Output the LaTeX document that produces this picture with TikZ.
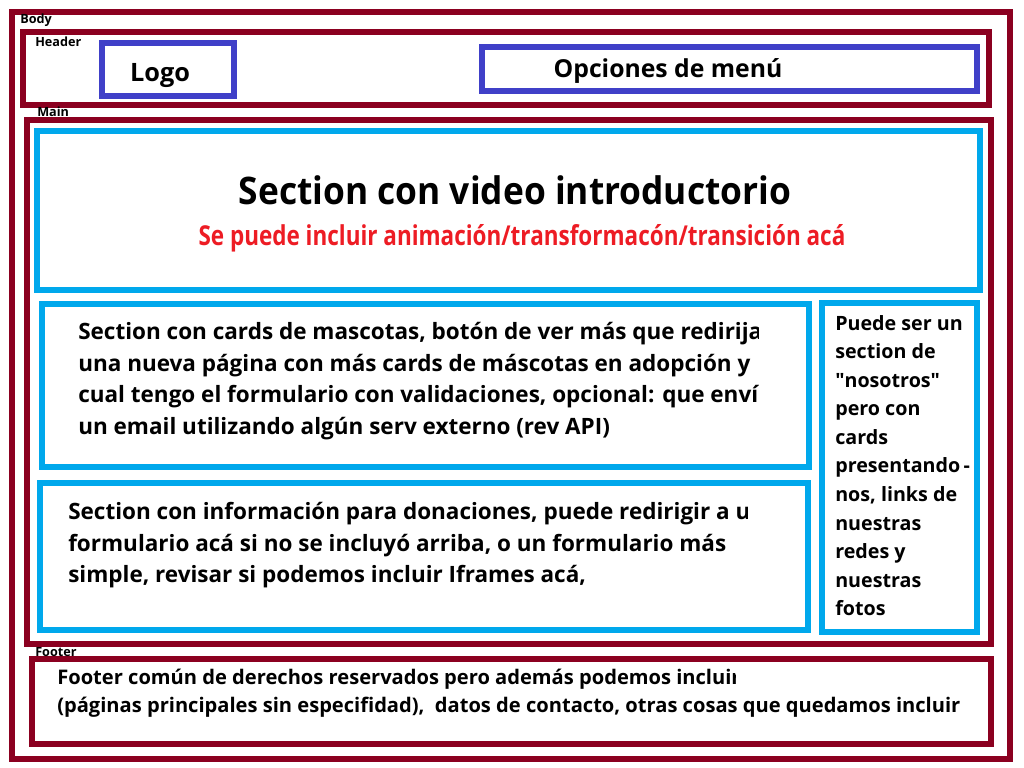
\documentclass[tikz,border=0pt]{standalone}
\usepackage{fontspec}
\setmainfont{Open Sans}
\newfontfamily\titlefont[FakeStretch=0.93]{Open Sans}
\newfontfamily\narrowfont[FakeStretch=0.82]{Open Sans}
\usetikzlibrary{positioning}

\definecolor{wine}{HTML}{8B0020}
\definecolor{sky}{HTML}{00A8EC}
\definecolor{logoblue}{HTML}{4040C8}
\definecolor{alertred}{HTML}{ED1C24}

% straight double quote, bypassing the TeX ligature mapping
\newcommand\plainquote{\XeTeXglyph\numexpr\XeTeXcharglyph"0022\relax}

\tikzset{
  layout/.style={draw=wine, line width=4.3pt},
  block/.style={draw=sky, line width=4.3pt},
  slot/.style={draw=logoblue, line width=4.3pt},
  areatag/.style={font=\bfseries\fontsize{9}{10}\selectfont, anchor=base west, inner sep=0pt},
  blurb/.style={font=\bfseries\fontsize{16}{22.4}\selectfont, anchor=north west, align=left, inner sep=0pt},
}

\begin{document}
\begin{tikzpicture}[x=0.025cm, y=-0.025cm]
        \useasboundingbox (0,0) rectangle (1024,768);

        % Page layout (body, header, main, footer)
        \draw[layout] (12,12) rectangle (1010,759);
        \draw[layout] (23,32) rectangle (989,105);
        \draw[layout] (27,120) rectangle (991,644);
        \draw[layout] (32,659) rectangle (991,744);

        \node[areatag] (body_tag) at (20,24) {Body};
        \node[areatag] (header_tag) at (35,47) {Header};
        \node[areatag] (main_tag) at (37,117) {Main};
        \node[areatag] (footer_tag) at (35,656) {Footer};

        % Header contents
        \draw[slot] (102,43) rectangle (234,96);
        \draw[slot] (482,47) rectangle (977,91);
        \node[font=\bfseries\fontsize{18}{20}\selectfont, anchor=base] (logo) at (160,82) {Logo};
        \node[font=\bfseries\fontsize{17.6}{20}\selectfont, anchor=base] (menu) at (668,78) {Opciones de menú};

        % Sections inside main
        \draw[block] (37,131) rectangle (980,290);
        \draw[block] (42,304) rectangle (809,467);
        \draw[block] (40,483) rectangle (808,630);
        \draw[block] (822,303) rectangle (977,632);

        \node[font=\titlefont\bfseries\fontsize{27}{30}\selectfont, anchor=base] (video) at (515,204) {Section con video introductorio};
        \node[font=\narrowfont\bfseries\fontsize{19.5}{22}\selectfont, text=alertred, anchor=base] (video_note) at (522,245) {Se puede incluir animación/transformacón/transición acá};

        \begin{scope}
          \clip (60,310) rectangle (758,460);
          \node[blurb] (cards) at (78,322) {Section con cards de mascotas, botón de ver más que redirija a\\
            una nueva página con más cards de máscotas en adopción y\\
            cual tengo el formulario con validaciones, opcional: que envíe\\
            un email utilizando algún serv externo (rev API)};
        \end{scope}

        \begin{scope}
          \clip (55,490) rectangle (747,620);
          \node[blurb] (donations) at (68,502) {Section con información para donaciones, puede redirigir a un\\
            formulario acá si no se incluyó arriba, o un formulario más\\
            simple, revisar si podemos incluir Iframes acá,};
        \end{scope}

        \node[blurb, font=\bfseries\fontsize{14}{20.3}\selectfont] (about) at (835,315) {Puede ser un\\
          section de\\
          \plainquote nosotros\plainquote\\
          pero con\\
          cards\\
          presentando\,-\\
          nos, links de\\
          nuestras\\
          redes y\\
          nuestras\\
          fotos};

        % Footer contents
        \begin{scope}
          \clip (45,664) rectangle (735,692);
          \node[blurb, font=\bfseries\fontsize{14.3}{20}\selectfont] (footer_text) at (57,669) {Footer común de derechos reservados pero además podemos incluir};
        \end{scope}
        \node[blurb, font=\bfseries\fontsize{14.3}{20}\selectfont] (footer_more) at (57,697) {(páginas principales sin especifidad),~ datos de contacto, otras cosas que quedamos incluir};
      \end{tikzpicture}
\end{document}
